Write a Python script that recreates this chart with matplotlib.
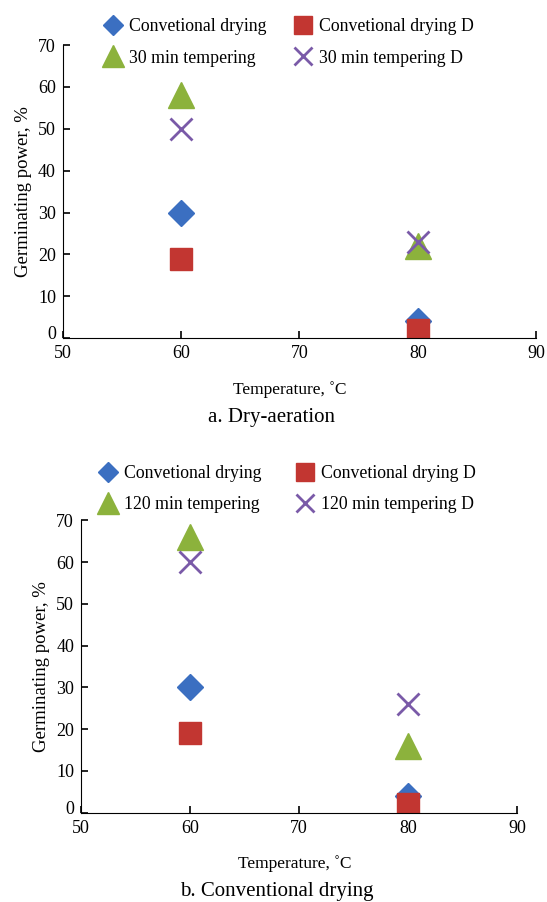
import matplotlib.pyplot as plt
from matplotlib.transforms import ScaledTranslation

plt.rcParams['font.family'] = ['Liberation Serif', 'DejaVu Serif']

temps = [60, 80]

# a. Dry-aeration
a_conv = [30, 4]
a_conv_d = [19, 2]
a_temp30 = [58, 22]
a_temp30_d = [50, 23]

# b. Conventional drying
b_conv = [30, 4]
b_conv_d = [19, 2]
b_temp120 = [66, 16]
b_temp120_d = [60, 26]

blue = '#3b6fc1'
red = '#c23631'
green = '#8cb23c'
purple = '#7a5aa8'

fig = plt.figure(figsize=(5.47, 9.02), dpi=100)


def draw_panel(ax, conv, conv_d, temp, temp_d, label_t, caption, leg_anchor, colsp, cap_x, xl_x):
    ax.plot(temps, conv, 'D', color=blue, ms=13, ls='none', label='Convetional drying')
    ax.plot(temps, conv_d, 's', color=red, ms=16, ls='none', label='Convetional drying D')
    ax.plot(temps, temp, '^', color=green, ms=19, ls='none', label=label_t)
    ax.plot(temps, temp_d, 'x', color=purple, ms=16, mew=2, ls='none', label=label_t + ' D')

    ax.set_xlim(50, 90)
    ax.set_ylim(0, 70)
    ax.set_xticks([50, 60, 70, 80, 90])
    ax.set_yticks(range(0, 71, 10))
    ax.spines['top'].set_visible(False)
    ax.spines['right'].set_visible(False)
    ax.tick_params(direction='in', length=5, labelsize=13, width=1.2)
    ax.tick_params(axis='x', pad=5)
    ax.tick_params(axis='y', pad=5)
    # nudge the "0" up a little, like the original
    lab0 = ax.get_yticklabels()[0]
    lab0.set_transform(lab0.get_transform() + ScaledTranslation(0, 4 / 72, fig.dpi_scale_trans))

    ax.set_xlabel('Temperature, ˚C', fontsize=12.5)
    ax.set_ylabel('Germinating power, %', fontsize=13.5)
    ax.xaxis.set_label_coords(xl_x, -0.145)

    # legend sits above the axes in two columns
    handles, labels = ax.get_legend_handles_labels()
    order = [0, 2, 1, 3]
    ax.legend([handles[i] for i in order], [labels[i] for i in order],
              ncol=2, frameon=False, fontsize=12.8, loc='lower left',
              bbox_to_anchor=leg_anchor, handletextpad=0.3, columnspacing=colsp,
              labelspacing=0.8, markerscale=0.8, handlelength=1.2)
    ax.text(cap_x, -0.27, caption, transform=ax.transAxes, ha='center',
            va='center', fontsize=15)


ax1 = fig.add_axes([0.115, 0.625, 0.865, 0.325])
draw_panel(ax1, a_conv, a_conv_d, a_temp30, a_temp30_d, '30 min tempering',
           'a. Dry-aeration', (0.05, 0.872), 1.43, 0.44, 0.48)

ax2 = fig.add_axes([0.148, 0.099, 0.797, 0.324])
draw_panel(ax2, b_conv, b_conv_d, b_temp120, b_temp120_d, '120 min tempering',
           'b. Conventional drying', (0.0, 0.97), 1.88, 0.45, 0.49)

plt.savefig('out.png', dpi=100)
